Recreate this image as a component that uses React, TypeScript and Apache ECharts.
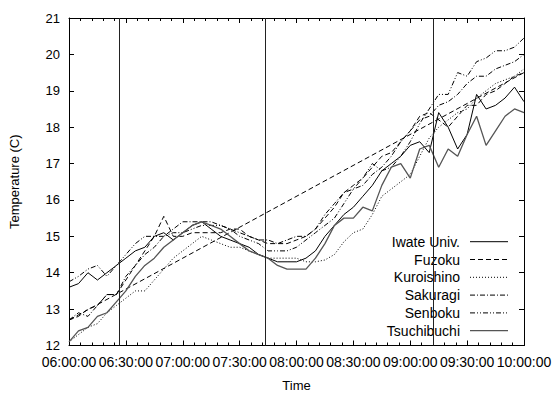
import React, { useEffect, useRef } from "react";
import * as echarts from "echarts";

const FONT = "'Liberation Sans', Arial, Helvetica, sans-serif";

const times = [
  "06:00", "06:05", "06:10", "06:15", "06:20", "06:25", "06:30", "06:35", "06:40", "06:45",
  "06:50", "06:55", "07:00", "07:05", "07:10", "07:15", "07:20", "07:25", "07:30", "07:35",
  "07:40", "07:45", "07:50", "07:55", "08:00", "08:05", "08:10", "08:15", "08:20", "08:25",
  "08:30", "08:35", "08:40", "08:45", "08:50", "08:55", "09:00", "09:05", "09:10", "09:15",
  "09:20", "09:25", "09:30", "09:35", "09:40", "09:45", "09:50", "09:55", "10:00",
];

const iwateUniv = [
  13.6, 13.7, 14.0, 13.8, 14.0, 14.2, 14.4, 14.6, 14.7, 15.0,
  15.1, 14.9, 15.1, 15.3, 15.4, 15.2, 15.0, 14.9, 14.8, 14.7,
  14.5, 14.4, 14.3, 14.3, 14.3, 14.4, 14.6, 15.0, 15.3, 15.6,
  15.8, 16.1, 16.4, 16.8, 17.0, 17.2, 17.5, 17.6, 17.3, 18.4,
  18.0, 17.4, 17.8, 18.9, 18.5, 18.6, 18.8, 19.1, 18.7,
];
const fuzoku = [
  12.7, 12.8, 13.0, 13.1, 13.4, 13.4, 13.8, 14.2, 14.6, 15.0,
  15.55, 15.0, 15.0, 15.1, 15.1, 15.1, 15.1, 15.2, 15.2, 15.0,
  14.9, 14.8, 14.8, 14.8, 14.9, 15.0, 15.2, 15.5, 15.8, 16.2,
  16.4, 16.6, 16.9, 17.2, 17.3, 17.6, 17.9, 18.3, 18.4, 18.2,
  18.0, 18.3, 18.6, 18.6, 18.9, 19.0, 19.2, 19.4, 19.5,
];
const kuroishino = [
  12.1, 12.3, 12.5, 12.6, 12.9, 13.1, 13.3, 13.5, 13.5, 13.8,
  14.1, 14.4, 14.6, 14.8, 15.0, 14.9, 14.8, 14.7, 14.7, 14.6,
  14.5, 14.4, 14.4, 14.4, 14.4, 14.3, 14.3, 14.35, 14.5, 14.85,
  15.1, 15.2, 15.6, 16.1, 16.3, 16.5, 16.7, 17.2, 17.7, 18.0,
  18.2, 18.4, 18.5, 18.8, 19.0, 19.2, 19.3, 19.4, 19.6,
];
const sakuragi = [
  12.7, 12.9, 12.8, 13.1, 13.4, 13.4, 13.9, 14.2, 14.5, 14.7,
  15.0, 15.2, 15.4, 15.4, 15.4, 15.4, 15.3, 15.2, 15.1, 15.0,
  14.9, 14.9, 14.8, 14.9, 15.0, 15.0, 15.2, 15.6, 15.9, 16.2,
  16.3, 16.4, 16.7, 16.9, 17.2, 17.6, 17.9, 18.2, 18.3, 18.6,
  18.7, 18.9, 19.2, 19.4, 19.4, 19.6, 19.7, 19.8, 20.0,
];
const senboku = [
  13.75, 13.9, 14.1, 14.2, 13.9, 14.2, 14.5, 14.8, 15.0, 15.0,
  15.0, 15.1, 15.1, 15.2, 15.3, 15.3, 15.3, 15.2, 15.0, 14.9,
  14.8, 14.6, 14.6, 14.6, 14.7, 14.9, 15.1, 15.3, 15.5, 15.9,
  16.3, 16.6, 17.0, 16.8, 16.9, 17.2, 17.6, 18.1, 18.5, 18.9,
  18.9, 19.5, 19.4, 19.8, 19.9, 20.1, 20.1, 20.2, 20.45,
];
const tsuchibuchi = [
  12.1, 12.4, 12.5, 12.8, 12.9, 13.2, 13.5, 13.9, 14.2, 14.4,
  14.7, 14.9, 15.1, 15.3, 15.4, 15.3, 15.2, 15.0, 14.8, 14.6,
  14.5, 14.4, 14.2, 14.1, 14.1, 14.1, 14.4, 14.8, 15.3, 15.5,
  15.5, 15.8, 15.7, 16.4, 16.9, 17.0, 16.6, 17.4, 17.5, 16.9,
  17.4, 17.2, 17.8, 18.3, 17.5, 17.9, 18.3, 18.5, 18.4,
];

const seriesNames = ["Iwate Univ.", "Fuzoku", "Kuroishino", "Sakuragi", "Senboku", "Tsuchibuchi"];
const seriesValues = [iwateUniv, fuzoku, kuroishino, sakuragi, senboku, tsuchibuchi];
const eventTimes = ["06:26:40", "07:43:40", "09:12:10"];

const xStart = "06:00:00";
const xEnd = "10:00:00";
const yMin = 12;
const yMax = 21;

function toMin(s: string): number {
  const p = s.split(":").map(Number);
  const b = xStart.split(":").map(Number);
  return (p[0] - b[0]) * 60 + (p[1] - b[1]) + ((p[2] || 0) - (b[2] || 0)) / 60;
}
function fmt(m: number): string {
  const b = xStart.split(":").map(Number);
  const total = b[0] * 60 + b[1] + Math.round(m);
  const h = Math.floor(total / 60);
  const mm = total % 60;
  return `${String(h).padStart(2, "0")}:${String(mm).padStart(2, "0")}:00`;
}

const styles: { color: string; width: number; dash: number[] | "solid" }[] = [
  { color: "#000", width: 1, dash: "solid" },
  { color: "#000", width: 1, dash: [5, 3] },
  { color: "#000", width: 1, dash: [1, 2] },
  { color: "#000", width: 1, dash: [5, 2, 1, 2] },
  { color: "#000", width: 1, dash: [5, 2, 1, 2, 1, 2] },
  { color: "#555", width: 1.3, dash: "solid" },
];

export default function App() {
  const ref = useRef<HTMLDivElement>(null);
  useEffect(() => {
    if (!ref.current) return;
    const chart = echarts.init(ref.current, undefined, { renderer: "svg" });
    const series: any[] = seriesValues.map((vals, i) => {
      const data: any[] = times.map((t, k) => [toMin(t), vals[k]]);
      if (i === 1) data.push([toMin(times[0]), vals[0]]);
      const s: any = {
        name: seriesNames[i],
        type: "line",
        data,
        showSymbol: false,
        symbol: "none",
        silent: true,
        lineStyle: { color: styles[i].color, width: styles[i].width, type: styles[i].dash },
        z: 3,
      };
      if (i === 0) {
        s.markLine = {
          silent: true,
          symbol: ["none", "none"],
          label: { show: false },
          lineStyle: { color: "#222", type: "solid", width: 1 },
          data: eventTimes.map((e) => ({ xAxis: toMin(e) })),
        };
      }
      return s;
    });

    const legendGraphics: any[] = [];
    seriesNames.forEach((n, i) => {
      const y = 241.7 + i * 17.8;
      legendGraphics.push({
        type: "text",
        x: 460,
        y,
        style: { text: n, fill: "#000", font: `14px ${FONT}`, textAlign: "right", textVerticalAlign: "middle" },
      });
      legendGraphics.push({
        type: "line",
        shape: { x1: 470, y1: y, x2: 508, y2: y },
        style: {
          stroke: styles[i].color,
          lineWidth: styles[i].width,
          lineDash: styles[i].dash === "solid" ? null : styles[i].dash,
        },
      });
    });

    const axisCommon = {
      axisLine: { show: true, onZero: false, lineStyle: { color: "#000", width: 1 } },
      axisTick: { show: true, inside: true, length: 5, lineStyle: { color: "#000", width: 1 } },
      splitLine: { show: false },
    };

    chart.setOption({
      animation: false,
      backgroundColor: "#fff",
      textStyle: { fontFamily: FONT },
      grid: { left: 69, right: 30, top: 18, bottom: 47.5, containLabel: false, outerBoundsMode: "none" },
      xAxis: [
        {
          type: "value",
          min: toMin(xStart),
          max: toMin(xEnd),
          interval: 30,
          position: "bottom",
          ...axisCommon,
          minorTick: { show: true, splitNumber: 5, length: 3, lineStyle: { color: "#000" } },
          axisLabel: { formatter: (v: number) => fmt(v), fontSize: 14, color: "#000", margin: 9, interval: 0, fontFamily: FONT },
          name: "Time",
          nameLocation: "middle",
          nameGap: 33,
          nameTextStyle: { fontSize: 13, color: "#000", fontFamily: FONT },
        },
        {
          type: "value",
          min: toMin(xStart),
          max: toMin(xEnd),
          interval: 30,
          position: "top",
          ...axisCommon,
          minorTick: { show: true, splitNumber: 5, length: 3, lineStyle: { color: "#000" } },
          axisLabel: { show: false },
        },
      ],
      yAxis: [
        {
          type: "value",
          min: yMin,
          max: yMax,
          interval: 1,
          position: "left",
          ...axisCommon,
          axisLabel: { fontSize: 13, color: "#000", margin: 9, fontFamily: FONT },
          name: "Temperature (C)",
          nameLocation: "middle",
          nameGap: 48,
          nameRotate: 90,
          nameTextStyle: { fontSize: 13, color: "#000", fontFamily: FONT },
        },
        {
          type: "value",
          min: yMin,
          max: yMax,
          interval: 1,
          position: "right",
          ...axisCommon,
          axisLabel: { show: false },
        },
      ],
      series,
      graphic: legendGraphics,
    });
    return () => chart.dispose();
  }, []);
  return <div ref={ref} style={{ position: "fixed", left: 0, top: 0, width: 554, height: 393 }} />;
}
